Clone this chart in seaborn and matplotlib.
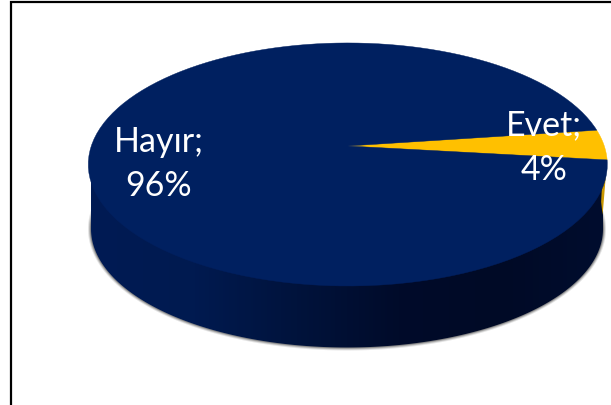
import numpy as np
import matplotlib
matplotlib.use("Agg")
import matplotlib.pyplot as plt
from matplotlib.colors import LinearSegmentedColormap
from matplotlib.patches import Polygon
from matplotlib.transforms import Affine2D
import seaborn as sns

# ---- data ----
categories = ["Evet", "Hayır"]
values = [4, 96]
slice_colors = ["#FFC000", "#002060"]
start_angle = -6.6

sns.set_theme(style="white")
plt.rcParams["font.family"] = ["Lato", "DejaVu Sans"]

fig = plt.figure(figsize=(6.11, 4.05), dpi=100, facecolor="white")
ax = fig.add_axes([0, 0, 1, 1])

# perspective projection of the unit disc to picture coordinates
APEX = (347.8, 146.0)
C = 0.152
A = 118.7
B = 256.5


def project(pts):
    u, v = pts[:, 0], pts[:, 1]
    d = 1 + C * v
    return np.column_stack([APEX[0] + B * u / d, APEX[1] - A * v / d])


def ell(cx, cy, rx, ry, t):
    return np.column_stack([cx + rx * np.cos(t), cy + ry * np.sin(t)])


wedges, _ = ax.pie(values, colors=slice_colors, startangle=start_angle,
                   radius=1.0, center=(0, 0), frame=True)
ax.set_aspect("auto")
ax.set_xlim(0, 611)
ax.set_ylim(405, 0)
ax.axis("off")

# rim and side
BOT = (347.0, 229.0, 256.0, 118.5)
hull = np.vstack([ell(*BOT, np.linspace(np.pi, 0, 300)),
                  [[BOT[0] + BOT[2], 165.0], [BOT[0] - BOT[2], 165.0]]])

# soft shadow round the side
for grow, alpha in [(3.0, 0.14), (2.0, 0.25), (1.0, 0.4)]:
    ax.add_patch(Polygon(ell(BOT[0], BOT[1], BOT[2] + grow, BOT[3] + grow,
                             np.linspace(0, 2 * np.pi, 400)),
                 closed=True, fc="#404040", ec="none", alpha=alpha, zorder=1))

side_cmap = LinearSegmentedColormap.from_list(
    "side", ["#001B54", "#001A50", "#00133C", "#000B2A", "#000A26", "#000D2E"])
grad = np.linspace(0, 1, 512).reshape(1, -1)
im = ax.imshow(grad, cmap=side_cmap, aspect="auto",
               extent=(BOT[0] - BOT[2], BOT[0] + BOT[2], 360, 150), zorder=2)
clip = Polygon(hull, closed=True, transform=ax.transData, fc="none", ec="none")
ax.add_patch(clip)
im.set_clip_path(clip)
ax.set_xlim(0, 611)
ax.set_ylim(405, 0)

# thin yellow side of the small slice
theta = np.deg2rad(start_angle)
P = project(np.array([[np.cos(theta), np.sin(theta)]]))[0]
ax.add_patch(Polygon([P, P + (-4.5, 55), P + (-6, 42), P + (-4, 4)], closed=True,
                     fc="#C99700", ec="none", zorder=3))

# top face: the pie's own wedges, projected
for w, col in zip(wedges, slice_colors):
    path = w.get_patch_transform().transform_path(w.get_path())
    poly = path.to_polygons(Affine2D().scale(400), closed_only=True)[0] / 400.0
    w.set_visible(False)
    ax.add_patch(Polygon(project(poly), closed=True, fc=col, ec=col, lw=0.3, zorder=4))

# labels
for cat, val, (x, y) in zip(categories, values, [(544, 148), (159, 164)]):
    ax.text(x, y, f"{cat};\n{val}%", color="white", fontsize=24.5, ha="center",
            va="center", linespacing=1.5, zorder=5)

# frame of the slide
ax.plot([10.5, 10.5, 611], [405, 1.8, 1.8], color="black", lw=1.6, zorder=6,
        solid_joinstyle="miter", clip_on=False)

fig.savefig("out.png", dpi=100)
